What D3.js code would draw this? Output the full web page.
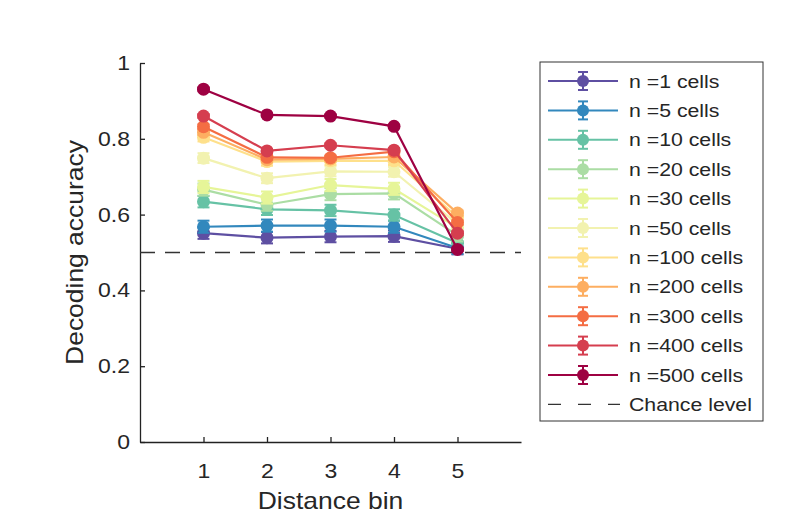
<!DOCTYPE html>
<html><head><meta charset="utf-8">
<script src="https://cdn.jsdelivr.net/npm/d3@7"></script>
<style>body{margin:0;background:#fff;}svg{font-family:"Liberation Sans",Arial,sans-serif;}</style>
</head><body>
<script>
const bins = [1,2,3,4,5];
const seriesNames = ["n =1 cells","n =5 cells","n =10 cells","n =20 cells","n =30 cells","n =50 cells","n =100 cells","n =200 cells","n =300 cells","n =400 cells","n =500 cells"];
const seriesColors = ["#5e4fa2","#3288bd","#66c2a5","#abdda4","#e6f598","#f2f2b0","#fee08b","#fdae61","#f46d43","#d53e4f","#9e0142"];
const n1   = [0.551,0.539,0.542,0.543,0.510];
const n5   = [0.568,0.571,0.571,0.568,0.512];
const n10  = [0.634,0.614,0.611,0.599,0.525];
const n20  = [0.666,0.626,0.654,0.656,0.545];
const n30  = [0.673,0.645,0.678,0.668,0.565];
const n50  = [0.749,0.696,0.714,0.713,0.575];
const n100 = [0.804,0.740,0.742,0.742,0.593];
const n200 = [0.817,0.745,0.747,0.752,0.604];
const n300 = [0.832,0.751,0.750,0.766,0.579];
const n400 = [0.860,0.768,0.783,0.770,0.551];
const n500 = [0.931,0.863,0.860,0.833,0.508];
const seriesValues = [n1,n5,n10,n20,n30,n50,n100,n200,n300,n400,n500];
const seriesErr = [0.015,0.016,0.015,0.016,0.016,0.013,0.011,0.007,0.006,0.005,0.004];
const chanceLevel = 0.5;
const xTicks = [1,2,3,4,5];
const yTicks = [0,0.2,0.4,0.6,0.8,1];

const W=800,H=530, SX=1.15;
const svg=d3.select("body").append("svg").attr("width",W).attr("height",H);
const x=d3.scaleLinear().domain([0,6]).range([140,521]);
const y=d3.scaleLinear().domain([0,1]).range([442,63]);
const txtCol="#262626";

// axes
const gx=svg.append("g").attr("transform","translate(0,442)")
  .call(d3.axisBottom(x).tickValues(xTicks).tickSizeInner(-5).tickSizeOuter(0).tickPadding(22).tickFormat(d3.format("d")));
const gy=svg.append("g").attr("transform","translate(140,0)")
  .call(d3.axisLeft(y).tickValues(yTicks).tickSizeInner(-5).tickSizeOuter(0).tickPadding(12).tickFormat(d=>d3.format("")(d)));
[gx,gy].forEach(g=>{
  g.selectAll("path").attr("stroke","#222").attr("stroke-width",1.3);
  g.selectAll("line").attr("stroke","#222").attr("stroke-width",1.3);
  g.selectAll("text").attr("font-size",20).attr("fill",txtCol).attr("font-family","Liberation Sans, Arial, sans-serif");
});
gx.selectAll("text").attr("transform",`scale(${SX},1)`);
gy.selectAll("text").attr("x",0).attr("transform",`translate(-10,0) scale(${SX},1)`);

svg.append("text").attr("transform",`translate(${x(3)},509) scale(${SX},1)`).attr("text-anchor","middle").attr("font-size",23).attr("fill",txtCol).text("Distance bin");
svg.append("text").attr("transform",`translate(83,${y(0.5)}) rotate(-90) scale(${SX},1)`).attr("text-anchor","middle").attr("font-size",23).attr("fill",txtCol).text("Decoding accuracy");

// chance line
svg.append("line").attr("x1",x(0)).attr("x2",x(6)).attr("y1",y(chanceLevel)).attr("y2",y(chanceLevel))
  .attr("stroke","#333").attr("stroke-width",1.3).attr("stroke-dasharray","15,10");

const line=d3.line().x((d,i)=>x(bins[i])).y(d=>y(d));
seriesValues.forEach((vals,s)=>{
  const c=seriesColors[s];
  const g=svg.append("g");
  g.append("path").datum(vals).attr("d",line).attr("fill","none").attr("stroke",c).attr("stroke-width",2.2);
  vals.forEach((v,i)=>{
    const e=seriesErr[s], cx=x(bins[i]);
    g.append("line").attr("x1",cx).attr("x2",cx).attr("y1",y(v-e)).attr("y2",y(v+e)).attr("stroke",c).attr("stroke-width",2);
    [v-e,v+e].forEach(t=>g.append("line").attr("x1",cx-6).attr("x2",cx+6).attr("y1",y(t)).attr("y2",y(t)).attr("stroke",c).attr("stroke-width",2));
    g.append("circle").attr("cx",cx).attr("cy",y(v)).attr("r",6.5).attr("fill",c);
  });
});

// legend
const lg=svg.append("g");
lg.append("rect").attr("x",540).attr("y",62).attr("width",223).attr("height",359).attr("fill","#fff").attr("stroke","#333").attr("stroke-width",1);
const ly=i=>81+i*29.4;
seriesNames.forEach((nm,i)=>{
  const c=seriesColors[i], yy=ly(i);
  lg.append("line").attr("x1",548).attr("x2",618).attr("y1",yy).attr("y2",yy).attr("stroke",c).attr("stroke-width",2);
  lg.append("line").attr("x1",583).attr("x2",583).attr("y1",yy-9).attr("y2",yy+9).attr("stroke",c).attr("stroke-width",2);
  [yy-9,yy+9].forEach(t=>lg.append("line").attr("x1",578).attr("x2",588).attr("y1",t).attr("y2",t).attr("stroke",c).attr("stroke-width",2));
  lg.append("circle").attr("cx",583).attr("cy",yy).attr("r",6).attr("fill",c);
  lg.append("text").attr("transform",`translate(629,${yy+6.5}) scale(${SX},1)`).attr("font-size",18.5).attr("fill",txtCol).text(nm);
});
const cy=ly(11);
lg.append("line").attr("x1",548).attr("x2",620).attr("y1",cy).attr("y2",cy).attr("stroke","#333").attr("stroke-width",1.3).attr("stroke-dasharray","13,17");
lg.append("text").attr("transform",`translate(629,${cy+6.5}) scale(${SX},1)`).attr("font-size",18.5).attr("fill",txtCol).text("Chance level");
</script>
</body></html>
